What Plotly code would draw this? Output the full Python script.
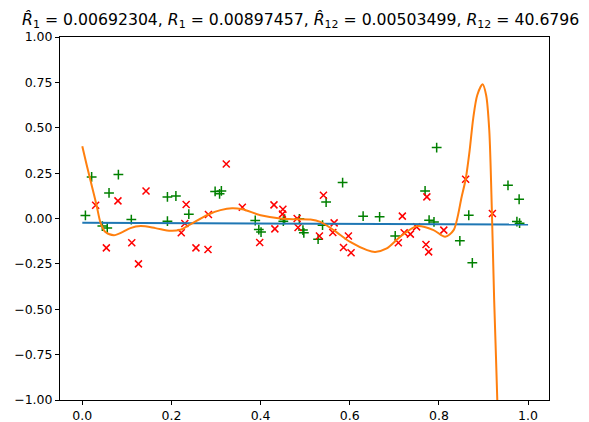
import plotly.graph_objects as go

# Training points (green +)
train_x = [0.007, 0.021, 0.045, 0.056, 0.060, 0.081, 0.110, 0.191, 0.210, 0.191,
           0.239, 0.298, 0.312, 0.308, 0.388, 0.396, 0.401, 0.451, 0.454, 0.487,
           0.495, 0.497, 0.539, 0.529, 0.547, 0.584, 0.630, 0.667, 0.702, 0.769,
           0.778, 0.789, 0.795, 0.847, 0.867, 0.875, 0.955, 0.980, 0.975, 0.981]
train_y = [0.017, 0.229, -0.042, -0.052, 0.141, 0.242, -0.006, 0.119, 0.124, -0.015,
           0.024, 0.149, 0.152, 0.136, -0.011, -0.061, -0.075, -0.015, -0.004, -0.002,
           -0.064, -0.079, -0.037, -0.114, 0.091, 0.198, 0.013, 0.009, -0.096, 0.152,
           -0.009, -0.019, 0.391, -0.123, 0.018, -0.244, 0.183, 0.106, -0.017, -0.026]

# Test points (red x)
test_x = [0.030, 0.054, 0.080, 0.111, 0.126, 0.143, 0.233, 0.230, 0.222, 0.255,
          0.282, 0.283, 0.323, 0.359, 0.398, 0.430, 0.450, 0.449, 0.432, 0.482,
          0.484, 0.541, 0.565, 0.562, 0.532, 0.597, 0.586, 0.603, 0.718, 0.709,
          0.722, 0.736, 0.750, 0.773, 0.771, 0.777, 0.811, 0.860, 0.920]
test_y = [0.073, -0.162, 0.097, -0.134, -0.250, 0.152, 0.077, -0.028, -0.079, -0.162,
          -0.171, 0.022, 0.300, 0.062, -0.132, 0.075, 0.051, 0.024, -0.057, 0.000,
          -0.050, 0.128, -0.024, -0.077, -0.096, -0.096, -0.160, -0.189, 0.013, -0.134,
          -0.079, -0.086, -0.046, 0.119, -0.143, -0.184, -0.064, 0.216, 0.028]

# Degree-1 fit (blue)
fit1_x = [0.0, 1.0]
fit1_y = [-0.024, -0.033]

# Degree-12 fit (orange)
fit12_x = [0.000, 0.010, 0.022, 0.032, 0.041, 0.052, 0.071, 0.090, 0.108, 0.131,
           0.164, 0.198, 0.220, 0.239, 0.283, 0.310, 0.336, 0.359, 0.400, 0.444,
           0.478, 0.512, 0.534, 0.564, 0.601, 0.639, 0.657, 0.683, 0.713, 0.751,
           0.788, 0.814, 0.833, 0.851, 0.860, 0.869, 0.877, 0.886, 0.898, 0.906,
           0.913, 0.919, 0.924, 0.931, 0.940]
fit12_y = [0.398, 0.293, 0.174, 0.073, -0.024, -0.075, -0.092, -0.075, -0.053, -0.042,
           -0.053, -0.068, -0.062, -0.037, 0.022, 0.046, 0.057, 0.051, 0.018, 0.000,
           -0.004, -0.006, -0.019, -0.064, -0.129, -0.174, -0.184, -0.165, -0.101, -0.042,
           -0.064, -0.101, -0.064, 0.119, 0.216, 0.376, 0.552, 0.679, 0.739, 0.679,
           0.486, 0.028, -0.450, -1.000, -2.000]

x_ticks = [0.0, 0.2, 0.4, 0.6, 0.8, 1.0]
y_ticks = [-1.0, -0.75, -0.5, -0.25, 0.0, 0.25, 0.5, 0.75, 1.0]

title_text = ("<i>R̂</i><sub>1</sub> = 0.00692304, <i>R</i><sub>1</sub> = 0.00897457, "
              "<i>R̂</i><sub>12</sub> = 0.00503499, <i>R</i><sub>12</sub> = 40.6796")

fig = go.Figure()
fig.add_trace(go.Scatter(x=train_x, y=train_y, mode="markers",
                         marker=dict(symbol="cross-thin", size=7,
                                     line=dict(color="#008000", width=1.5)),
                         showlegend=False))
fig.add_trace(go.Scatter(x=test_x, y=test_y, mode="markers",
                         marker=dict(symbol="x-thin", size=7,
                                     line=dict(color="#ff0000", width=1.5)),
                         showlegend=False))
fig.add_trace(go.Scatter(x=fit1_x, y=fit1_y, mode="lines",
                         line=dict(color="#1f77b4", width=2), showlegend=False))
fig.add_trace(go.Scatter(x=fit12_x, y=fit12_y, mode="lines",
                         line=dict(color="#ff7f0e", width=2, shape="spline", smoothing=0.8),
                         showlegend=False))

axis_common = dict(showgrid=False, zeroline=False, showline=True, linecolor="black",
                   linewidth=1, mirror=True, ticks="outside", ticklen=4, tickwidth=1,
                   tickcolor="black", automargin=False,
                   tickfont=dict(family="DejaVu Sans", size=12.5, color="black"))

# The page body adds an 8px offset, so the figure is sized to fit the window.
fig.update_layout(
    width=581, height=414,
    margin=dict(l=52, r=40, t=29, b=22),
    paper_bgcolor="white", plot_bgcolor="white",
    font=dict(family="DejaVu Sans", color="black"),
    xaxis=dict(range=[-0.05, 1.047], tickvals=x_ticks, tickformat=".1f", **axis_common),
    yaxis=dict(range=[-1.0, 1.0], tickvals=y_ticks, tickformat=".2f", **axis_common),
    annotations=[dict(text=title_text, xref="paper", yref="paper", x=0.5, y=1,
                      xanchor="center", yanchor="bottom", yshift=4, xshift=-4,
                      showarrow=False,
                      font=dict(family="DejaVu Sans", size=15.7, color="black"))],
)

fig.write_html("out.html")
